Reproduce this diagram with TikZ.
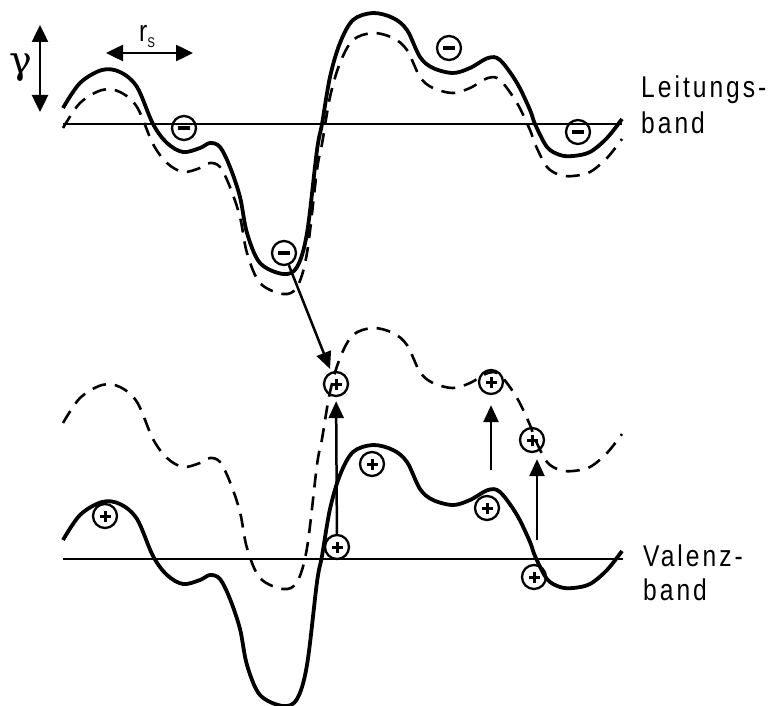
\documentclass[tikz,border=0pt]{standalone}
\usepackage{fontspec}
\setmainfont{Liberation Sans}
\newfontfamily\labelfont[FakeStretch=0.82,LetterSpace=10]{Liberation Sans}
\newfontfamily\greekfont{DejaVu Serif}
\usetikzlibrary{arrows.meta}
\newcommand\bandcurve[1]{%
  \draw[#1] plot[smooth,tension=0.55] coordinates {
    (63,108) (80,83) (102,70) (120,72) (137,87) (153,124) (167,143) (183,152)
    (200,148) (210,143) (220,147) (230,167) (240,197) (247,233) (260,263)
    (283,274) (297,267) (307,233) (317,150) (322,124) (330,77) (340,43)
    (353,20) (373,13) (393,18) (407,30) (420,57) (433,68) (453,73) (470,68)
    (488,58) (500,60) (517,83) (530,110) (535,124) (547,147) (560,155)
    (573,156) (590,152) (607,138) (622,119)};}
\tikzset{
  solidband/.style={line width=3.8pt,line join=round},
  dashband/.style={line width=2.6pt,dash pattern=on 14pt off 9pt},
  level/.style={line width=2.1pt},
  qcirc/.style={circle,draw,line width=2.3pt,minimum size=24pt,inner sep=0pt},
  minus/.style={qcirc,path picture={\fill ([xshift=-6pt,yshift=-2.2pt]path picture bounding box.center) rectangle ++(12pt,4.4pt);}},
  plus/.style={qcirc,path picture={\fill ([xshift=-5.5pt,yshift=-1.5pt]path picture bounding box.center) rectangle ++(11pt,3pt);
     \fill ([xshift=-1.5pt,yshift=-5.5pt]path picture bounding box.center) rectangle ++(3pt,11pt);}},
  arr/.style={line width=2.5pt,-{Triangle[length=17pt,width=15pt]}},
  darr/.style={line width=2.5pt,{Triangle[length=17pt,width=16pt]}-{Triangle[length=17pt,width=16pt]}},
  lbl/.style={anchor=base west,inner sep=0pt,font=\labelfont\fontsize{30}{35}\selectfont}
}
\begin{document}
\begin{tikzpicture}[x=1pt,y=-1pt]
\useasboundingbox (0,0) rectangle (768,706);
% conduction band
\bandcurve{solidband}
\bandcurve{dashband,shift={(0,20)}}
% valence band
\bandcurve{solidband,shift={(0,432)}}
\bandcurve{dashband,shift={(0,315)}}
% levels
\coordinate (c1) at (63,124); \coordinate (c2) at (622,124);
\coordinate (v1) at (63,559); \coordinate (v2) at (623,559);
\draw[level] (c1) -- (c2);
\draw[level] (v1) -- (v2);
% electrons
\node[minus] (e1) at (184,128) {};
\node[minus] (e2) at (284,253) {};
\node[minus] (e3) at (449,48) {};
\node[minus] (e4) at (578,132) {};
% holes
\node[plus] (h1) at (105,516) {};
\node[plus] (h2) at (337,547) {};
\node[plus] (h3) at (336,384) {};
\node[plus] (h4) at (491,382) {};
\node[plus] (h5) at (532,440) {};
\node[plus] (h6) at (372,464) {};
\node[plus] (h7) at (487,508) {};
\node[plus] (h8) at (534,577) {};
% transitions
\draw[arr,shorten >=3pt] (e2) -- (h3);
\draw[arr,shorten >=4pt] (h2) -- (h3);
\coordinate (a3) at (491,470);
\draw[arr,shorten >=10pt] (a3) -- (h4);
\coordinate (a4) at (537,540);
\draw[arr,shorten >=6pt] (a4) -- (a4 |- h5.south);
% scale markers
\coordinate (g1) at (40,25); \coordinate (g2) at (40,112);
\draw[darr] (g1) -- (g2);
\node[inner sep=0pt,font=\greekfont\fontsize{38}{38}\selectfont] (gam) at (21,68) {γ};
\coordinate (r1) at (106,53); \coordinate (r2) at (193,53);
\draw[darr] (r1) -- (r2);
\node[lbl] (rs) at (139,42) {r\raisebox{-6pt}{\fontsize{14}{14}\selectfont S}};
% labels
\node[lbl] (lb1) at (641,98) {Leitungs-};
\node[lbl] (lb2) at (641,133) {band};
\node[lbl] (vb1) at (643,566) {Valenz-};
\node[lbl] (vb2) at (643,600) {band};
\end{tikzpicture}
\end{document}
